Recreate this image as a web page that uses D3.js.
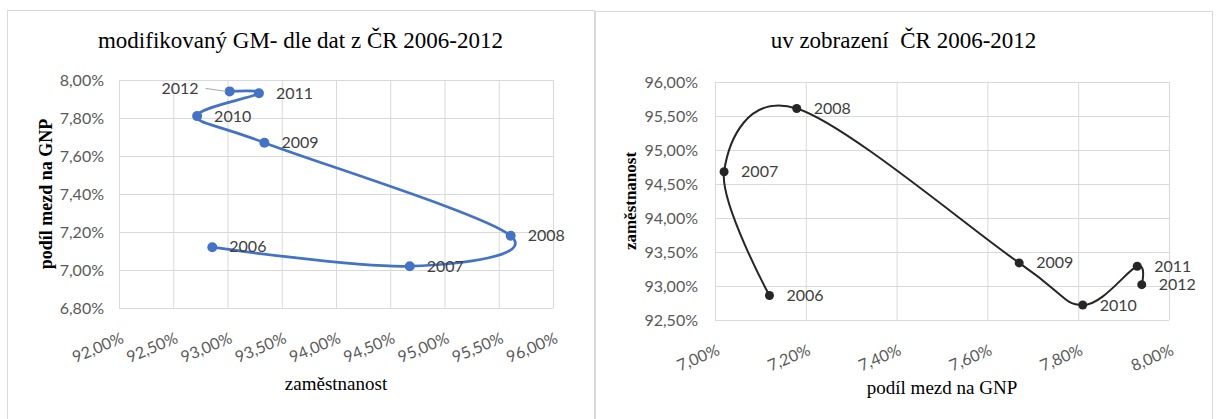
<!DOCTYPE html>
<html>
<head>
<meta charset="utf-8">
<script src="https://cdn.jsdelivr.net/npm/d3@7"></script>
<style>
  body { margin: 0; background: #fff; }
  svg { display: block; }
  .tick line { stroke: #d9d9d9; }
  .tick text { font-family: Lato, "Liberation Sans", sans-serif; font-size: 16px; fill: #595959; }
  .ttl { font-family: "Liberation Serif", "Times New Roman", serif; fill: #000; white-space: pre; }
  .lbl { font-family: Lato, "Liberation Sans", sans-serif; font-size: 16px; fill: #404040; }
</style>
</head>
<body>
<svg id="chart" width="1219" height="419"></svg>
<script>
// data (percent)
const years = ["2006", "2007", "2008", "2009", "2010", "2011", "2012"];
const employment = [92.86, 94.68, 95.61, 93.34, 92.72, 93.29, 93.02];
const wageShare = [7.12, 7.02, 7.18, 7.67, 7.81, 7.93, 7.94];

const employmentTicks = [92, 92.5, 93, 93.5, 94, 94.5, 95, 95.5, 96];
const wageTicks = [6.8, 7.0, 7.2, 7.4, 7.6, 7.8, 8.0];
const employmentTicksR = [92.5, 93, 93.5, 94, 94.5, 95, 95.5, 96];
const wageTicksR = [7.0, 7.2, 7.4, 7.6, 7.8, 8.0];

const czFmt = d3.formatLocale({ decimal: ",", thousands: " ", grouping: [3], currency: ["", ""] }).format(".2f");
const pct = v => czFmt(v) + "%";

const svg = d3.select("#chart");

const points = years.map((y, i) => ({ year: y, emp: employment[i], wage: wageShare[i] }));

function drawPanel(cfg) {
  const g = svg.append("g");

  g.append("rect")
    .attr("x", cfg.box[0] + 0.5).attr("y", cfg.box[1] + 0.5)
    .attr("width", cfg.box[2]).attr("height", cfg.box[3])
    .attr("fill", "#fff").attr("stroke", "#d9d9d9");

  const x = d3.scaleLinear().domain(cfg.xDomain).range([cfg.plot.left, cfg.plot.right]);
  const y = d3.scaleLinear().domain(cfg.yDomain).range([cfg.plot.bottom, cfg.plot.top]);
  const w = cfg.plot.right - cfg.plot.left;
  const h = cfg.plot.bottom - cfg.plot.top;

  // gridlines + y labels
  const ya = g.append("g")
    .attr("transform", `translate(${cfg.plot.left},0)`)
    .call(d3.axisLeft(y).tickValues(cfg.yTicks).tickFormat(pct).tickSize(-w).tickPadding(cfg.yPad));
  ya.select(".domain").remove();

  const xa = g.append("g")
    .attr("transform", `translate(0,${cfg.plot.bottom})`)
    .call(d3.axisBottom(x).tickValues(cfg.xTicks).tickFormat(pct).tickSize(-h));
  xa.select(".domain").remove();
  xa.selectAll(".tick text")
    .attr("y", 0).attr("dy", "0.35em")
    .attr("text-anchor", "end")
    .attr("transform", "translate(3,29) rotate(-23)");

  // chart title
  g.append("text").attr("class", "ttl")
    .attr("x", cfg.box[0] + cfg.box[2] / 2).attr("y", 48)
    .attr("text-anchor", "middle").style("font-size", "23px")
    .text(cfg.title);

  // axis titles
  g.append("text").attr("class", "ttl")
    .attr("x", (cfg.plot.left + cfg.plot.right) / 2).attr("y", cfg.xTitleY)
    .attr("text-anchor", "middle")
    .style("font-size", cfg.xTitleSize).style("font-weight", cfg.xTitleWeight)
    .text(cfg.xTitle);

  g.append("text").attr("class", "ttl")
    .attr("transform", `translate(${cfg.yTitleX},${(cfg.plot.top + cfg.plot.bottom) / 2}) rotate(-90)`)
    .attr("text-anchor", "middle").attr("dy", "0.35em")
    .style("font-size", cfg.yTitleSize).style("font-weight", "bold")
    .text(cfg.yTitle);

  const line = d3.line()
    .x(d => x(cfg.xv(d)))
    .y(d => y(cfg.yv(d)))
    .curve(d3.curveCatmullRom.alpha(0));

  g.append("path")
    .datum(points)
    .attr("d", line)
    .attr("fill", "none")
    .attr("stroke", cfg.color)
    .attr("stroke-width", cfg.lineWidth);

  g.selectAll("circle.pt")
    .data(points)
    .join("circle")
    .attr("class", "pt")
    .attr("cx", d => x(cfg.xv(d)))
    .attr("cy", d => y(cfg.yv(d)))
    .attr("r", cfg.r)
    .attr("fill", cfg.color);

  // data labels
  g.selectAll("text.lbl")
    .data(points)
    .join("text")
    .attr("class", "lbl")
    .attr("x", d => x(cfg.xv(d)) + (cfg.leftLabels.includes(d.year) ? -31 : 17))
    .attr("y", d => y(cfg.yv(d)) + (cfg.yNudge[d.year] || 0))
    .attr("dy", "0.35em")
    .attr("text-anchor", d => cfg.leftLabels.includes(d.year) ? "end" : "start")
    .text(d => d.year);

  // leader lines for labels placed on the left
  points.filter(d => cfg.leftLabels.includes(d.year)).forEach(d => {
    const px = x(cfg.xv(d)), py = y(cfg.yv(d));
    g.append("line")
      .attr("x1", px - 24).attr("y1", py - 3)
      .attr("x2", px - 4).attr("y2", py)
      .attr("stroke", "#a6a6a6").attr("stroke-width", 1);
  });
}

drawPanel({
  box: [7, 10, 587, 420],
  plot: { left: 119, right: 553, top: 80, bottom: 308 },
  xDomain: [92, 96], yDomain: [6.8, 8.0],
  xTicks: employmentTicks, yTicks: wageTicks, yPad: 15,
  xv: d => d.emp, yv: d => d.wage,
  title: "modifikovaný GM- dle dat z ČR 2006-2012",
  xTitle: "zaměstnanost", xTitleSize: "19px", xTitleWeight: "normal", xTitleY: 390,
  yTitle: "podíl mezd na GNP", yTitleSize: "18px", yTitleX: 46,
  color: "#4472c4", lineWidth: 2.75, r: 5,
  leftLabels: ["2012"], yNudge: { "2012": -3, "2006": -1 }
});

drawPanel({
  box: [595, 11, 617, 420],
  plot: { left: 715, right: 1169, top: 82, bottom: 320 },
  xDomain: [7.0, 8.0], yDomain: [92.5, 96],
  xTicks: wageTicksR, yTicks: employmentTicksR, yPad: 17,
  xv: d => d.wage, yv: d => d.emp,
  title: "uv zobrazení  ČR 2006-2012",
  xTitle: "podíl mezd na GNP", xTitleSize: "19px", xTitleWeight: "normal", xTitleY: 394,
  yTitle: "zaměstnanost", yTitleSize: "17px", yTitleX: 630,
  color: "#262626", lineWidth: 2, r: 4.5,
  leftLabels: [], yNudge: {}
});
</script>
</body>
</html>
